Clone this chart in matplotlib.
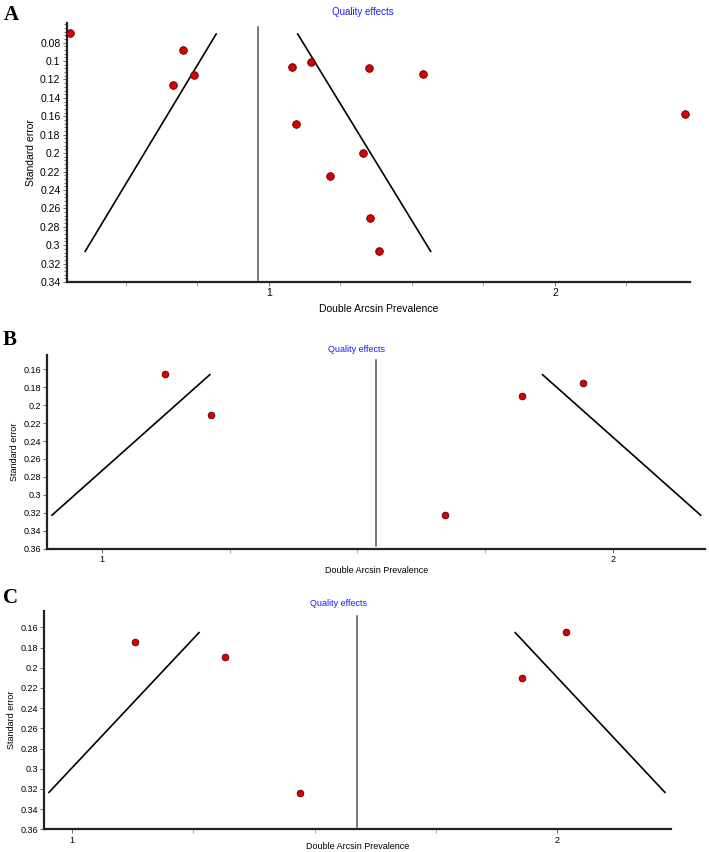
import numpy as np
import matplotlib
matplotlib.use("Agg")
import matplotlib.pyplot as plt
from matplotlib.ticker import FixedLocator, FuncFormatter

plt.rcParams['font.family'] = ['Liberation Sans Narrow', 'Liberation Sans', 'DejaVu Sans']

# ---------------- data ----------------
# Panel A
xA = [0.304, 0.699, 0.737, 0.665, 1.080, 1.146, 1.351, 1.540, 2.455, 1.095, 1.328, 1.212, 1.355, 1.386]
seA = [0.0698, 0.088, 0.1153, 0.1265, 0.1062, 0.1015, 0.108, 0.1135, 0.157, 0.168, 0.1994, 0.2244, 0.2703, 0.3065]
pooledA = 0.961
pooledA_span = [0.0633, 0.338]
funnelA_se = [0.0698, 0.3075]
funnelA_left = [0.817, 0.356]
funnelA_right = [1.099, 1.567]

# Panel B
xB = [1.1226, 1.2143, 1.8236, 1.9427, 1.671]
seB = [0.1652, 0.2104, 0.19, 0.1748, 0.3225]
pooledB = 1.537
pooledB_span = [0.1489, 0.3574]
funnelB_se = [0.1652, 0.3234]
funnelB_left = [1.2125, 0.901]
funnelB_right = [1.8616, 2.1737]

# Panel C
xC = [1.1299, 1.3154, 2.0176, 1.9267, 1.4703]
seC = [0.1741, 0.1895, 0.1646, 0.2102, 0.324]
pooledC = 1.588
pooledC_span = [0.1485, 0.3573]
funnelC_se = [0.1646, 0.324]
funnelC_left = [1.2628, 0.9514]
funnelC_right = [1.9119, 2.2226]

yticksA = [0.08, 0.1, 0.12, 0.14, 0.16, 0.18, 0.2, 0.22, 0.24, 0.26, 0.28, 0.3, 0.32, 0.34]
yticksBC = [0.16, 0.18, 0.2, 0.22, 0.24, 0.26, 0.28, 0.3, 0.32, 0.34, 0.36]
xticks_major = [1, 2]

W, H = 709, 852
fig = plt.figure(figsize=(W / 100, H / 100), dpi=100)


def px_axes(l, r, t, b):
    return fig.add_axes([l / W, 1 - b / H, (r - l) / W, (b - t) / H])


def draw_panel(ax, x, se, pooled, span, fse, fl, fr, xlim, ylim, yticks, xminor,
               yminor=None, fs=7, ms=5.2, xlabelpad=4):
    ax.plot(fl, fse, color='black', lw=1.2, solid_capstyle='butt', zorder=2)
    ax.plot(fr, fse, color='black', lw=1.2, solid_capstyle='butt', zorder=2)
    ax.plot([pooled, pooled], span, color='#555555', lw=1.1, zorder=2)
    ax.plot(x, se, 'o', color='#dd0000', markeredgecolor='#550000',
            markeredgewidth=0.6, markersize=ms, zorder=3, linestyle='none')
    ax.set_xlim(*xlim)
    ax.set_ylim(*ylim)
    for s in ['top', 'right']:
        ax.spines[s].set_visible(False)
    for s in ['left', 'bottom']:
        ax.spines[s].set_color('#222222')
        ax.spines[s].set_linewidth(1.6)
    ax.yaxis.set_major_locator(FixedLocator(yticks))
    ax.yaxis.set_major_formatter(FuncFormatter(lambda v, p: '{:g}'.format(round(v, 3))))
    ax.xaxis.set_major_locator(FixedLocator(xticks_major))
    ax.xaxis.set_major_formatter(FuncFormatter(lambda v, p: '{:g}'.format(v)))
    ax.xaxis.set_minor_locator(FixedLocator(xminor))
    if yminor is not None:
        ax.yaxis.set_minor_locator(FixedLocator(yminor))
        ax.tick_params(axis='y', which='minor', length=2, width=0.6, color='#555555')
    ax.tick_params(axis='both', which='major', labelsize=fs, length=3, width=0.6,
                   color='#555555', pad=1.5)
    ax.tick_params(axis='x', which='minor', length=3, width=0.6, color='#999999')
    ax.set_xlabel('Double Arcsin Prevalence', fontsize=fs, labelpad=xlabelpad)
    ax.set_ylabel('Standard error', fontsize=fs, labelpad=3)


# Panel A
axA = px_axes(66.7, 690, 22.7, 282)
draw_panel(axA, xA, seA, pooledA, pooledA_span, funnelA_se, funnelA_left, funnelA_right,
           (0.293, 2.472), (0.34, 0.0583), yticksA,
           [0.5, 0.75, 1.25, 1.5, 1.75, 2.25],
           yminor=list(np.arange(0.06, 0.3401, 0.004)), fs=7.5, ms=5.5)
fig.text(363 / W, 1 - 12 / H, 'Quality effects', color='#1a1aff', fontsize=7,
         ha='center', va='center')
fig.text(4 / W, 1 - 15 / H, 'A', fontsize=15, fontweight='bold',
         family=['Liberation Serif', 'DejaVu Serif'], ha='left', va='center')

# Panel B
axB = px_axes(47.3, 705, 355.4, 548.5)
draw_panel(axB, xB, seB, pooledB, pooledB_span, funnelB_se, funnelB_left, funnelB_right,
           (0.893, 2.181), (0.36, 0.1443), yticksBC,
           [1.25, 1.5, 1.75], fs=6.5, ms=4.8, xlabelpad=1.5)
fig.text(356 / W, 1 - 349 / H, 'Quality effects', color='#1a1aff', fontsize=6.5,
         ha='center', va='center')
fig.text(3 / W, 1 - 340 / H, 'B', fontsize=15, fontweight='bold',
         family=['Liberation Serif', 'DejaVu Serif'], ha='left', va='center')

# Panel C
axC = px_axes(44.1, 671, 611, 829.3)
draw_panel(axC, xC, seC, pooledC, pooledC_span, funnelC_se, funnelC_left, funnelC_right,
           (0.9425, 2.234), (0.36, 0.1438), yticksBC,
           [1.25, 1.5, 1.75], fs=6.5, ms=4.8, xlabelpad=-1.5)
fig.text(338 / W, 1 - 603 / H, 'Quality effects', color='#1a1aff', fontsize=6.5,
         ha='center', va='center')
fig.text(3 / W, 1 - 598 / H, 'C', fontsize=15, fontweight='bold',
         family=['Liberation Serif', 'DejaVu Serif'], ha='left', va='center')

fig.savefig('out.png', dpi=100)
